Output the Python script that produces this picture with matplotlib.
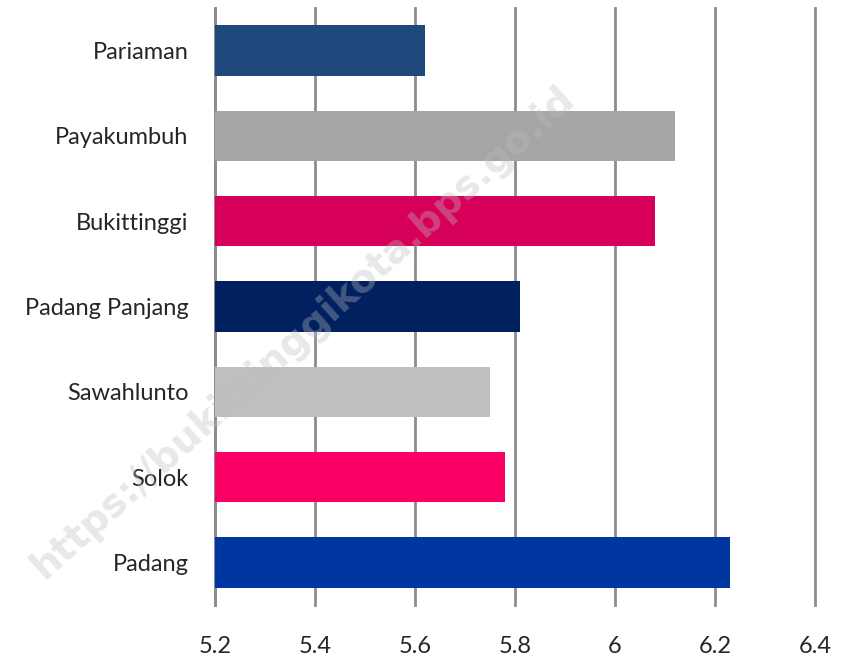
import matplotlib.pyplot as plt

cities = ['Pariaman', 'Payakumbuh', 'Bukittinggi', 'Padang Panjang',
          'Sawahlunto', 'Solok', 'Padang']
values = [5.62, 6.12, 6.08, 5.81, 5.75, 5.78, 6.23]
colors = ['#1F497D', '#A6A6A6', '#D6005A', '#002060',
          '#BFBFBF', '#FA0064', '#0036A0']
xticks = [5.2, 5.4, 5.6, 5.8, 6.0, 6.2, 6.4]
xtick_labels = ['5.2', '5.4', '5.6', '5.8', '6', '6.2', '6.4']

plt.rcParams['font.family'] = ['Lato', 'DejaVu Sans']

fig = plt.figure(figsize=(8.41, 6.64), dpi=100)
ax = fig.add_axes([215/841, 1 - 605/664, 600/841, 597/664])

y = list(range(len(cities)))
ax.barh(y, [v - 5.2 for v in values], left=5.2, height=0.59,
        color=colors, zorder=3)

ax.set_xlim(5.2, 6.4)
ax.set_ylim(len(cities) - 0.5, -0.5)
ax.set_xticks(xticks)
ax.set_xticklabels(xtick_labels, fontsize=17, color='#262626')
ax.set_yticks(y)
ax.set_yticklabels(cities, fontsize=17, color='#262626')
ax.tick_params(axis='x', length=0, pad=22)
ax.tick_params(axis='y', length=0, pad=19)

ax.grid(axis='x', color='#8C8C8C', linewidth=2, zorder=0)
for gl in ax.get_xgridlines():
    gl.set_clip_on(False)
for s in ['top', 'right', 'bottom']:
    ax.spines[s].set_visible(False)
ax.spines['left'].set_color('#8C8C8C')
ax.spines['left'].set_linewidth(2)

fig.text(0.36, 0.5, 'https://bukittinggikota.bps.go.id', fontsize=28,
         fontweight='bold', color='#BDBDBD', alpha=0.35, rotation=42,
         ha='center', va='center', family='DejaVu Sans', zorder=10)

fig.savefig('out.png', dpi=100)
